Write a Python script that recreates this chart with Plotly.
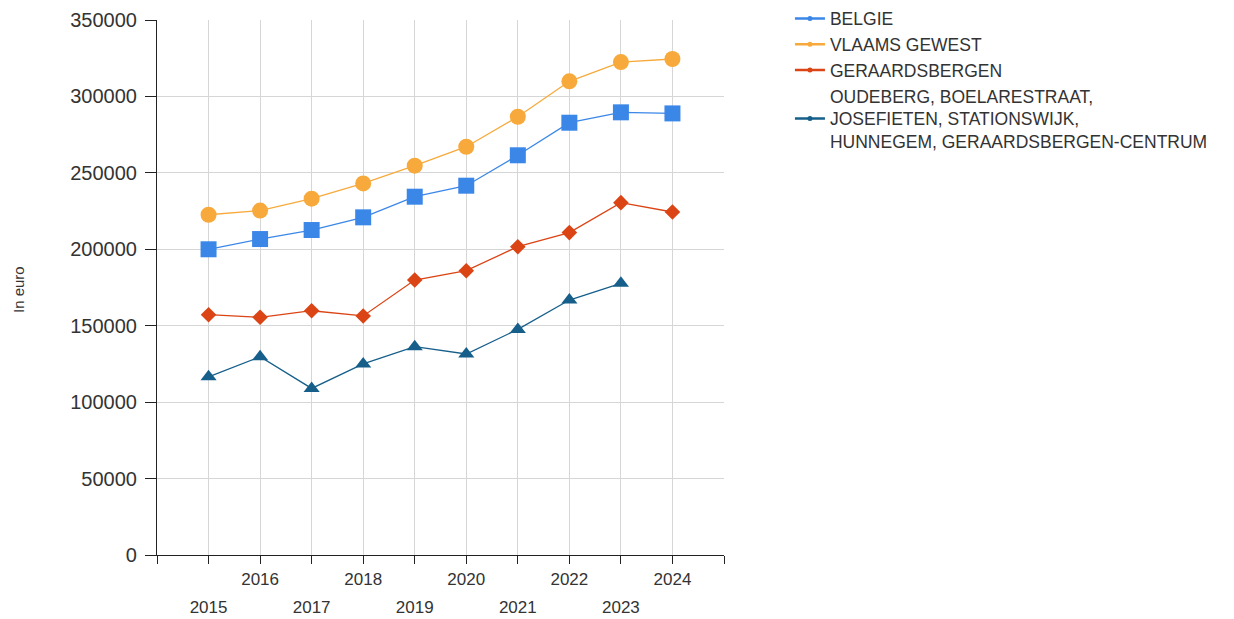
import plotly.graph_objects as go

years = [2015, 2016, 2017, 2018, 2019, 2020, 2021, 2022, 2023, 2024]

belgie = [200000, 206700, 212600, 220900, 234400, 241600, 261500, 282800, 289600, 288900]
vlaams = [222600, 225300, 233100, 243100, 254700, 267100, 286700, 309900, 322500, 324500]
geraardsbergen = [157200, 155500, 159800, 156400, 179900, 186000, 201700, 210900, 230500, 224400]
wijk = [116600, 129700, 109000, 125000, 136300, 131500, 147600, 166800, 177700, None]

names = [
    "BELGIE",
    "VLAAMS GEWEST",
    "GERAARDSBERGEN",
    "OUDEBERG, BOELARESTRAAT,<br>JOSEFIETEN, STATIONSWIJK,<br>HUNNEGEM, GERAARDSBERGEN-CENTRUM",
]
colors = ["#3b87e8", "#f7aa3b", "#db4414", "#165f8a"]
symbols = ["square", "circle", "diamond", "triangle-up"]
sizes = [16, 16, 12, 14]
series = [belgie, vlaams, geraardsbergen, wijk]

tick_vals = list(range(2014, 2026))
even_text = [str(y) if (2015 <= y <= 2024 and y % 2 == 0) else "" for y in tick_vals]
odd_years = [y for y in years if y % 2 == 1]
odd_text = [str(y) for y in odd_years]

y_ticks = [0, 50000, 100000, 150000, 200000, 250000, 300000, 350000]

FONT = "Liberation Sans, Arial, sans-serif"
TXT = "#333333"

fig = go.Figure()
for name, col, sym, sz, vals in zip(names, colors, symbols, sizes, series):
    fig.add_trace(go.Scatter(
        x=years, y=vals, mode="lines+markers", name=name,
        line=dict(color=col, width=1.3),
        marker=dict(color=col, symbol=sym, size=sz),
        showlegend=False, hoverinfo="x+y+name",
    ))
# legend-only entries with small markers
for name, col in zip(names, colors):
    fig.add_trace(go.Scatter(
        x=[None], y=[None], mode="lines+markers", name=name,
        line=dict(color=col, width=2.5),
        marker=dict(color=col, symbol="circle", size=5),
        showlegend=True,
    ))
# carrier trace for the second (odd-year label) x axis
fig.add_trace(go.Scatter(x=[None], y=[None], xaxis="x2", showlegend=False,
                         hoverinfo="skip"))

fig.update_layout(
    width=1226, height=611,
    margin=dict(l=149, r=510, t=12, b=64, autoexpand=False),
    paper_bgcolor="white", plot_bgcolor="white",
    font=dict(family=FONT, color=TXT, size=17),
    legend=dict(
        x=1.1163, y=1.036, xanchor="left", yanchor="top",
        font=dict(family=FONT, size=17.5, color=TXT),
        bgcolor="rgba(0,0,0,0)", tracegroupgap=0,
    ),
    xaxis=dict(
        range=[2014, 2025], tickmode="array", tickvals=tick_vals, ticktext=even_text,
        showgrid=True, gridcolor="#d6d6d6", gridwidth=1,
        showline=True, linecolor="#222222", linewidth=1.2,
        ticks="outside", ticklen=8, tickcolor="#222222",
        tickfont=dict(family=FONT, size=17, color=TXT),
        zeroline=False, automargin=False,
    ),
    xaxis2=dict(
        range=[2014, 2025], overlaying="x", anchor="y", side="bottom",
        tickmode="array", tickvals=odd_years, ticktext=odd_text,
        showgrid=False, showline=False, ticks="", zeroline=False,
        ticklabelstandoff=40,
        tickfont=dict(family=FONT, size=17, color=TXT),
        automargin=False,
    ),
    yaxis=dict(
        range=[0, 350000], tickmode="array", tickvals=y_ticks,
        ticktext=[str(v) for v in y_ticks],
        showgrid=True, gridcolor="#d6d6d6", gridwidth=1,
        showline=True, linecolor="#222222", linewidth=1.2,
        ticks="outside", ticklen=11, tickcolor="#222222",
        ticklabelstandoff=4,
        tickfont=dict(family=FONT, size=20, color=TXT),
        zeroline=False, automargin=False,
    ),
    annotations=[dict(
        text="In euro", xref="paper", yref="paper",
        x=(18 - 157) / 567, y=(555 - 290) / 535, showarrow=False,
        textangle=-90, font=dict(family=FONT, size=15, color=TXT),
        xanchor="center", yanchor="middle",
    )],
)

fig.write_html("out.html")
